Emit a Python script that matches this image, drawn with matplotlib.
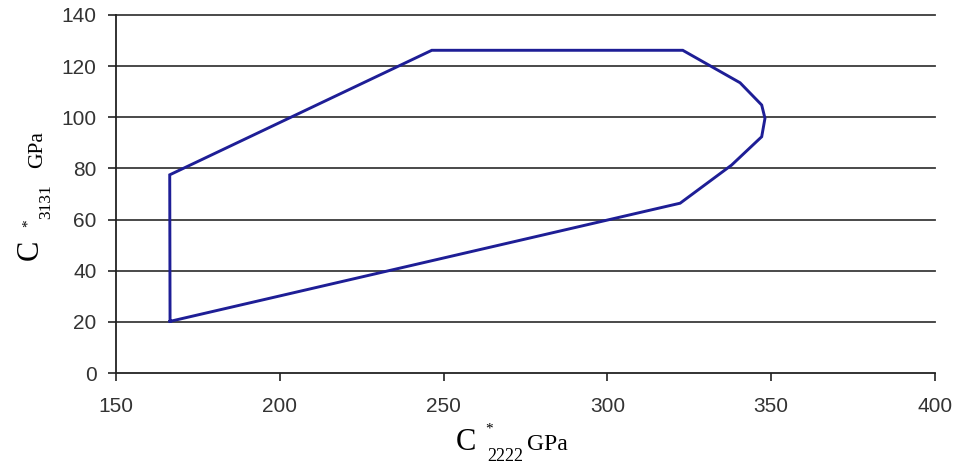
import matplotlib
matplotlib.use("Agg")
import matplotlib.pyplot as plt

# =========================
# Data
# =========================

c2222 = [166.5, 166.4, 246.4, 323.0, 340.5, 347.1, 348.1, 347.1, 337.9, 322.2, 166.5]
c3131 = [20.2, 77.5, 126.2, 126.2, 113.5, 104.8, 99.6, 92.4, 81.3, 66.4, 20.2]

x_ticks = [150, 200, 250, 300, 350, 400]
y_ticks = [0, 20, 40, 60, 80, 100, 120, 140]

W, H = 959, 473

# =========================
# Plot
# =========================

fig = plt.figure(figsize=(W / 100, H / 100), dpi=100)
ax = fig.add_axes([116 / W, 1 - 373 / H, (935 - 116) / W, (373 - 15) / H])

ax.plot(c2222, c3131, color="#1e1e96", linewidth=2.1, solid_joinstyle="miter", zorder=3)

ax.set_xlim(150, 400)
ax.set_ylim(0, 140)
ax.set_xticks(x_ticks)
ax.set_yticks(y_ticks)

for v in y_ticks[1:]:
  ax.axhline(v, color="#3a3a3a", linewidth=1.3, zorder=1, clip_on=False)

for side in ["top", "right"]:
  ax.spines[side].set_visible(False)
for side in ["left", "bottom"]:
  ax.spines[side].set_color("#222222")
  ax.spines[side].set_linewidth(1.3)

ax.tick_params(axis="both", direction="out", length=6, width=1.2,
               colors="#222222", labelsize=15)
ax.tick_params(axis="y", pad=8)
ax.tick_params(axis="x", pad=11)
for lab in ax.get_xticklabels() + ax.get_yticklabels():
  lab.set_fontfamily("Liberation Sans")
  lab.set_color("#333333")

# =========================
# Axis labels (pieces, mixed sizes)
# =========================

serif = "Liberation Serif"


def fx(px):
  return px / W


def fy(py):
  return 1 - py / H


# x label
fig.text(fx(456), fy(450), "C", fontsize=22, family=serif, ha="left", va="baseline")
fig.text(fx(489), fy(429), "*", fontsize=11, family=serif, ha="center", va="center")
fig.text(fx(487), fy(461), "2222", fontsize=13, family=serif, ha="left", va="baseline")
fig.text(fx(527), fy(450), "GPa", fontsize=17, family=serif, ha="left", va="baseline")

# y label
fig.text(fx(38), fy(260), "C", fontsize=22, family=serif, rotation=90,
         rotation_mode="anchor", ha="left", va="baseline")
fig.text(fx(28), fy(223), "*", fontsize=11, family=serif, rotation=90,
         ha="center", va="center")
fig.text(fx(50), fy(219), "3131", fontsize=12.5, family=serif, rotation=90,
         rotation_mode="anchor", ha="left", va="baseline")
fig.text(fx(42), fy(168), "GPa", fontsize=15.5, family=serif, rotation=90,
         rotation_mode="anchor", ha="left", va="baseline")

fig.savefig("out.png", dpi=100)
